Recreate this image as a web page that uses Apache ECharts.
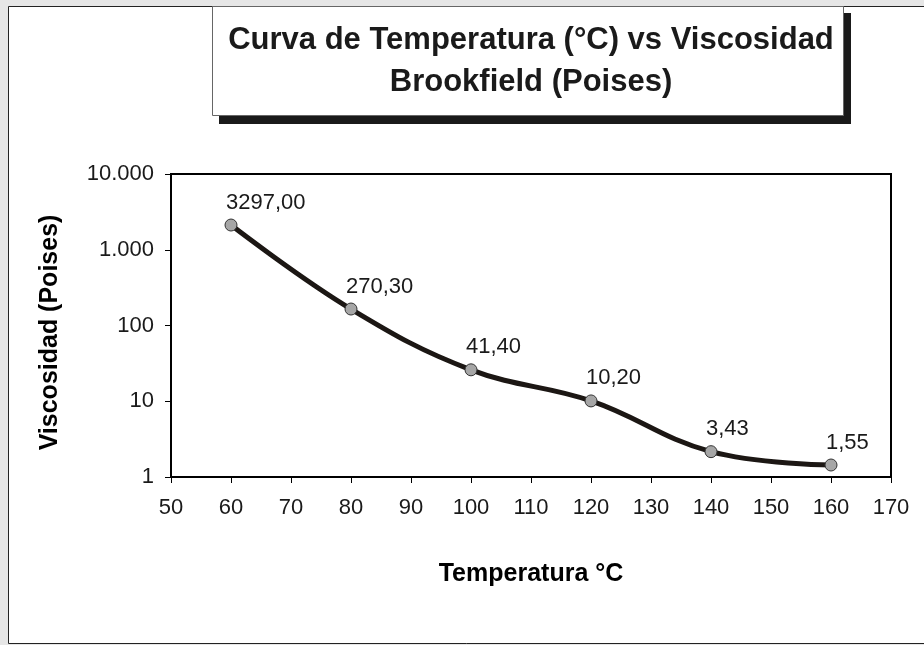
<!DOCTYPE html>
<html>
<head>
<meta charset="utf-8">
<script src="https://cdn.jsdelivr.net/npm/echarts@6/dist/echarts.min.js"></script>
<style>
  html, body { margin: 0; padding: 0; background: #e6e6e6; }
  #chart { width: 924px; height: 645px; }
</style>
</head>
<body>
<div id="chart"></div>
<script>
const temps = [60, 80, 100, 120, 140, 160];
const viscosity = [2120, 165, 26, 10.1, 2.16, 1.44];
// etiquetas tal como aparecen en el gráfico
const pointLabels = ['3297,00', '270,30', '41,40', '10,20', '3,43', '1,55'];

const FONT = '"Liberation Sans", Arial, sans-serif';

function thousands(v) {
  return String(Math.round(v)).replace(/\B(?=(\d{3})+(?!\d))/g, '.');
}

const chart = echarts.init(document.getElementById('chart'));

chart.setOption({
  backgroundColor: '#e6e6e6',
  animation: false,
  textStyle: { fontFamily: FONT },
  graphic: [
    {
      type: 'rect', z: -10, silent: true,
      shape: { x: 8.5, y: 6.5, width: 940, height: 637 },
      style: { fill: '#fff', stroke: '#222', lineWidth: 1 }
    },
    {
      type: 'rect', z: 10, silent: true,
      shape: { x: 219, y: 13, width: 632, height: 111 },
      style: { fill: '#1a1a1a' }
    },
    {
      type: 'rect', z: 11, silent: true,
      shape: { x: 212.5, y: 6.5, width: 631, height: 109 },
      style: { fill: '#fff', stroke: '#666', lineWidth: 1 }
    },
    {
      type: 'text', z: 12, silent: true,
      x: 531, y: 61,
      style: {
        text: 'Curva de Temperatura (°C) vs Viscosidad\nBrookfield (Poises)',
        font: 'bold 31px ' + FONT,
        fill: '#1a1a1a',
        align: 'center',
        verticalAlign: 'middle',
        lineHeight: 42
      }
    }
  ],
  grid: {
    left: 171, right: 33, top: 174, bottom: 168,
    show: true,
    backgroundColor: '#fff',
    borderColor: '#000',
    borderWidth: 2
  },
  xAxis: {
    type: 'value',
    min: 50, max: 170, interval: 10,
    name: 'Temperatura °C',
    nameLocation: 'middle',
    nameGap: 85,
    nameTextStyle: { fontSize: 25, fontWeight: 'bold', color: '#000' },
    axisLine: { show: true, lineStyle: { color: '#000', width: 2 } },
    axisTick: { show: true, length: 6, lineStyle: { color: '#000', width: 1 } },
    axisLabel: { fontSize: 22, color: '#1a1a1a', margin: 20 },
    splitLine: { show: false }
  },
  yAxis: {
    type: 'log',
    logBase: 10,
    min: 1, max: 10000,
    name: 'Viscosidad (Poises)',
    nameLocation: 'middle',
    nameGap: 108,
    nameTextStyle: { fontSize: 25, fontWeight: 'bold', color: '#000', padding: [0, 14, 0, 0] },
    axisLine: { show: true, lineStyle: { color: '#000', width: 2 } },
    axisTick: { show: true, length: 6, lineStyle: { color: '#000', width: 1 } },
    axisLabel: { fontSize: 22, color: '#1a1a1a', margin: 17, formatter: thousands },
    splitLine: { show: false },
    minorTick: { show: false }
  },
  series: [
    {
      type: 'line',
      data: temps.map((t, i) => [t, viscosity[i]]),
      smooth: 0.4,
      lineStyle: { color: '#1c1714', width: 5 },
      symbol: 'circle',
      symbolSize: 12,
      itemStyle: { color: '#a6a6a6', borderColor: '#333', borderWidth: 1 },
      label: {
        show: true,
        position: 'top',
        align: 'left',
        offset: [-5, 0],
        fontSize: 22,
        color: '#1a1a1a',
        formatter: p => pointLabels[p.dataIndex]
      }
    }
  ]
});
</script>
</body>
</html>
